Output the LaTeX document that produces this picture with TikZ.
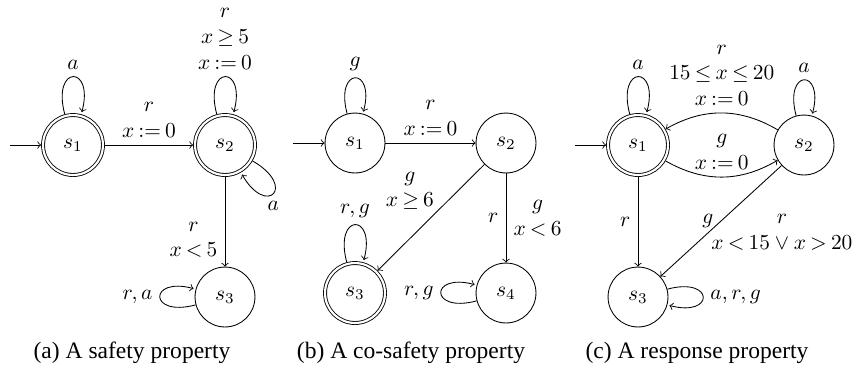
\documentclass[tikz,border=0pt]{standalone}
\usepackage[no-math]{fontspec}
\newfontfamily\capfont{Liberation Serif}[Ligatures=TeX]
\newcommand\tightmath{\thickmuskip=3.5mu\relax\medmuskip=4mu\relax}
\begin{document}
\begin{tikzpicture}[x=0.4673pt,y=0.4673pt,
  st/.style={circle,draw,minimum size=28pt,inner sep=0pt,font=\fontsize{10}{12}\selectfont},
  acc/.style={st,double,double distance=1pt,outer sep=0.9pt},
  lab/.style={font=\fontsize{10}{12}\selectfont\tightmath,align=center},
  tr/.style={->},
  captext/.style={font=\capfont\fontsize{11}{13}\selectfont}]
\useasboundingbox (0,0) rectangle (863,-370);
% panel (a)
\node[acc] (A1) at (73,-145) {$s_1$};
\node[acc] (A2) at (225,-145) {$s_2$};
\node[st]  (A3) at (225,-297) {$s_3$};
\coordinate (IA) at (10,-145);
\draw[tr] (IA) -- (A1);
\path[tr] (A1) edge[loop above] node[lab,above] {$a$} ()
  (A1) edge node[lab,above] {$r$\\$x:=0$} (A2)
  (A2) edge[loop above] node[lab,above] {$r$\\$x\geq5$\\$x:=0$} ()
  (A2) edge[out=-30,in=-60,loop] node[lab,below] {$a$} ()
  (A2) edge node[lab,left,pos=0.7] {$r$\\$x<5$} (A3)
  (A3) edge[loop left] node[lab,left] {$r,a$} ();
\node[captext] (CA) at (132,-353) {(a) A safety property};
% panel (b)
\node[st]  (B1) at (355,-143) {$s_1$};
\node[st]  (B2) at (506,-143) {$s_2$};
\node[acc] (B3) at (355,-293) {$s_3$};
\node[st]  (B4) at (506,-293) {$s_4$};
\coordinate (IB) at (293,-143);
\draw[tr] (IB) -- (B1);
\path[tr] (B1) edge[loop above] node[lab,above] {$g$} ()
  (B1) edge node[lab,above] {$r$\\$x:=0$} (B2)
  (B2) edge node[lab,pos=0.45,anchor=south east,inner sep=1pt] {$g$\\$x\geq6$} (B3)
  (B2) edge node[lab,left] {$r$} node[lab,right] {$g$\\$x<6$} (B4)
  (B3) edge[loop above] node[lab,above] {$r,g$} ()
  (B4) edge[loop left] node[lab,left] {$r,g$} ();
\node[captext] (CB) at (411,-353) {(b) A co-safety property};
% panel (c)
\node[acc] (C1) at (638,-145) {$s_1$};
\node[st]  (C2) at (804,-145) {$s_2$};
\node[st]  (C3) at (638,-297) {$s_3$};
\coordinate (IC) at (575,-145);
\draw[tr] (IC) -- (C1);
\path[tr] (C1) edge[loop above] node[lab,above] {$a$} ()
  (C2) edge[loop above] node[lab,above] {$a$} ()
  (C2) edge[bend right=30] node[lab,above] {$r$\\$15\leq x\leq20$\\$x:=0$} (C1)
  (C1) edge[bend right=30] node[lab,above] {$g$\\$x:=0$} (C2)
  (C1) edge node[lab,left] {$r$} (C3)
  (C2) edge node[lab,left] {$g$} node[lab,right,pos=0.6,inner sep=1pt] {$r$\\$x<15\vee x>20$} (C3)
  (C3) edge[loop right] node[lab,right] {$a,r,g$} ();
\node[captext] (CC) at (697,-353) {(c) A response property};
\end{tikzpicture}
\end{document}
